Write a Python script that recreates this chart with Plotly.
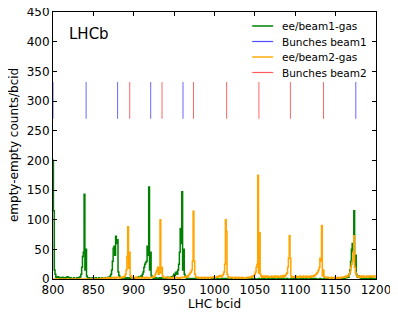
import plotly.graph_objects as go

bcid_start = 800
bcid_end = 1200

beam1_gas = [
    200, 115, 15, 8, 3, 2, 4, 2, 3, 1,
    2, 1, 3, 2, 1, 2, 1, 3, 4, 3,
    2, 1, 2, 1, 0, 1, 2, 1, 0, 1,
    2, 1, 2, 3, 4, 8, 20, 38, 45, 143,
    15, 50, 5, 2, 1, 2, 1, 0, 1, 2,
    1, 0, 1, 2, 1, 1, 0, 2, 1, 0,
    1, 2, 1, 0, 1, 2, 1, 2, 3, 2,
    3, 5, 8, 15, 30, 52, 55, 40, 72, 60,
    66, 12, 6, 3, 2, 1, 2, 1, 3, 1,
    2, 1, 2, 1, 0, 2, 1, 3, 1, 2,
    1, 2, 1, 2, 1, 3, 2, 4, 3, 5,
    4, 8, 12, 20, 25, 28, 30, 55, 40, 155,
    15, 45, 6, 3, 2, 1, 2, 1, 2, 1,
    0, 1, 2, 1, 2, 1, 0, 1, 2, 1,
    2, 1, 3, 2, 1, 2, 3, 4, 3, 5,
    8, 6, 10, 12, 8, 15, 25, 45, 85, 60,
    147, 15, 50, 8, 3, 2, 1, 0, 1, 0,
    1, 0, 0, 1, 0, 0, 1, 0, 0, 0,
    0, 1, 0, 0, 0, 1, 0, 0, 1, 0,
    0, 0, 1, 0, 0, 0, 0, 1, 0, 0,
    1, 0, 0, 0, 1, 0, 0, 0, 0, 1,
    0, 0, 1, 0, 0, 1, 0, 0, 0, 0,
    0, 1, 0, 0, 0, 0, 1, 0, 0, 0,
    1, 0, 0, 1, 0, 0, 0, 0, 1, 0,
    0, 0, 0, 1, 0, 0, 1, 0, 0, 0,
    1, 0, 0, 0, 0, 1, 0, 0, 0, 1,
    0, 0, 1, 0, 0, 0, 0, 1, 0, 0,
    0, 1, 0, 0, 1, 0, 0, 0, 0, 1,
    0, 0, 0, 1, 0, 0, 1, 0, 0, 0,
    1, 0, 0, 0, 0, 1, 0, 0, 1, 0,
    0, 0, 1, 0, 0, 0, 0, 1, 0, 0,
    1, 0, 0, 0, 1, 0, 0, 0, 0, 1,
    0, 0, 1, 0, 0, 1, 0, 0, 0, 0,
    0, 1, 0, 0, 0, 0, 1, 0, 0, 1,
    0, 0, 1, 0, 1, 0, 0, 1, 0, 1,
    1, 0, 1, 2, 1, 0, 1, 2, 1, 1,
    2, 1, 2, 3, 2, 4, 3, 8, 15, 30,
    50, 60, 45, 115, 20, 40, 8, 4, 3, 5,
    2, 3, 1, 2, 1, 0, 1, 2, 1, 0,
    1, 0, 1, 2, 1, 0, 1, 1, 0, 1, 1,
]

beam2_gas = [
    0, 0, 0, 0, 0, 0, 0, 0, 0, 0,
    0, 0, 0, 0, 0, 0, 0, 0, 0, 0,
    0, 0, 0, 0, 0, 0, 0, 0, 0, 0,
    0, 0, 0, 0, 0, 0, 0, 0, 0, 0,
    0, 0, 0, 0, 0, 0, 0, 0, 0, 0,
    0, 0, 0, 0, 0, 0, 0, 0, 0, 0,
    1, 0, 1, 2, 1, 0, 1, 2, 1, 1,
    2, 1, 2, 1, 2, 3, 2, 1, 2, 3,
    2, 3, 2, 1, 2, 3, 2, 4, 3, 5,
    8, 15, 38, 88, 18, 45, 6, 3, 2, 1,
    2, 3, 2, 1, 3, 2, 1, 2, 3, 2,
    1, 2, 3, 2, 1, 2, 3, 2, 1, 2,
    2, 3, 2, 3, 4, 3, 5, 8, 12, 15,
    20, 8, 18, 100, 10, 20, 5, 3, 2, 3,
    2, 3, 2, 1, 2, 3, 2, 1, 2, 3,
    2, 1, 2, 3, 2, 1, 2, 1, 2, 3,
    2, 3, 2, 3, 4, 3, 5, 4, 6, 8,
    10, 12, 15, 30, 114, 30, 8, 4, 3, 2,
    3, 2, 1, 2, 3, 2, 1, 2, 3, 2,
    1, 2, 3, 2, 1, 2, 3, 2, 3, 4,
    3, 2, 3, 4, 3, 5, 4, 6, 5, 4,
    6, 8, 12, 25, 100, 80, 8, 4, 3, 2,
    3, 2, 3, 2, 1, 2, 3, 2, 1, 2,
    3, 2, 1, 2, 3, 2, 1, 2, 1, 2,
    2, 3, 2, 3, 2, 4, 3, 5, 4, 6,
    8, 12, 20, 25, 175, 10, 78, 8, 4, 3,
    5, 3, 4, 5, 3, 4, 5, 3, 4, 3,
    4, 5, 3, 4, 3, 5, 4, 3, 5, 4,
    3, 4, 5, 3, 4, 6, 5, 4, 6, 8,
    10, 20, 35, 73, 35, 5, 3, 4, 3, 4,
    3, 5, 4, 3, 4, 3, 5, 4, 3, 4,
    5, 3, 4, 3, 5, 4, 3, 4, 5, 3,
    4, 5, 4, 6, 5, 7, 8, 10, 12, 15,
    20, 35, 30, 90, 5, 15, 4, 3, 2, 3,
    2, 3, 2, 1, 2, 3, 2, 1, 2, 3,
    2, 1, 2, 3, 2, 1, 2, 3, 2, 3,
    3, 4, 3, 5, 4, 6, 5, 8, 12, 20,
    25, 30, 45, 73, 20, 10, 6, 4, 5, 3,
    4, 3, 5, 4, 3, 5, 4, 3, 4, 5,
    4, 3, 5, 4, 5, 4, 3, 5, 4, 5, 5,
]

bunches_beam1 = [800, 841, 880, 921, 961, 1175]
bunches_beam2 = [895, 935, 974, 1015, 1055, 1094, 1135]
bunch_marker_range = [270, 332]

x_ticks = [800, 850, 900, 950, 1000, 1050, 1100, 1150, 1200]
y_ticks = [0, 50, 100, 150, 200, 250, 300, 350, 400, 450]

series_names = ["ee/beam1-gas", "Bunches beam1", "ee/beam2-gas", "Bunches beam2"]
series_colors = ["#008000", "rgba(0,0,255,0.6)", "#FFA500", "rgba(255,0,0,0.6)"]
legend_colors = ["rgba(0,128,0,0.75)", "rgba(0,0,255,0.7)", "rgba(255,165,0,0.7)", "rgba(255,0,0,0.65)"]
legend_widths = [2, 1.2, 2, 1.2]

bcids = list(range(bcid_start, bcid_end + 1))


def marker_xy(positions, yr):
    xs, ys = [], []
    for p in positions:
        xs += [p, p, None]
        ys += [yr[0], yr[1], None]
    return xs, ys


fig = go.Figure()
fig.add_trace(go.Scatter(x=bcids, y=beam1_gas, mode="lines", name=series_names[0],
                         line=dict(color=series_colors[0], width=1.5, shape="hvh")))
bx, by = marker_xy(bunches_beam1, bunch_marker_range)
fig.add_trace(go.Scatter(x=bx, y=by, mode="lines", name=series_names[1],
                         line=dict(color=series_colors[1], width=1)))
fig.add_trace(go.Scatter(x=bcids, y=beam2_gas, mode="lines", name=series_names[2],
                         line=dict(color=series_colors[2], width=1.5, shape="hvh")))
rx, ry = marker_xy(bunches_beam2, bunch_marker_range)
fig.add_trace(go.Scatter(x=rx, y=ry, mode="lines", name=series_names[3],
                         line=dict(color=series_colors[3], width=1)))

font = "DejaVu Sans, Verdana, sans-serif"
axis_common = dict(showline=True, linecolor="black", linewidth=1, mirror="allticks",
                   ticks="inside", ticklen=4, tickcolor="black", showgrid=False,
                   zeroline=False, automargin=False, ticklabeloverflow="allow",
                   tickfont=dict(size=12, color="black", family=font))

# page body has an 8px margin: the figure is drawn starting at (8, 8) of the window
OFF = 8
W, H = 390, 308
plot_left, plot_right, plot_top, plot_bottom = 52.5, 376, 12, 279  # window px
L = plot_left - OFF
T = plot_top - OFF
R = W - (plot_right - OFF)
B = H - (plot_bottom - OFF)
pw, ph = W - L - R, H - T - B


def px_x(x):
    return (x - plot_left) / pw


def px_y(y):
    return (plot_bottom - y) / ph


fig.update_xaxes(range=[800, 1200], tickvals=x_ticks,
                 title=dict(text="LHC bcid", font=dict(size=12, color="black", family=font), standoff=2),
                 **axis_common)
fig.update_yaxes(range=[0, 450], tickvals=y_ticks, **axis_common)

fig.add_annotation(text="empty-empty counts/bcid", xref="paper", yref="paper",
                   x=px_x(13), y=0.5, textangle=-90, showarrow=False,
                   xanchor="center", yanchor="middle",
                   font=dict(size=12, color="black", family=font))

fig.add_annotation(text="LHCb", xref="paper", yref="paper", x=px_x(67), y=px_y(34),
                   xanchor="left", yanchor="middle", showarrow=False,
                   font=dict(size=15, color="black", family=font))

# manual legend (top right, no frame)
legend_rows_px = [26, 41.5, 57, 72.5]
for name, col, lw, ypx in zip(series_names, legend_colors, legend_widths, legend_rows_px):
    yp = px_y(ypx)
    fig.add_shape(type="line", xref="paper", yref="paper",
                  x0=px_x(252), x1=px_x(273), y0=yp, y1=yp,
                  line=dict(color=col, width=lw))
    fig.add_annotation(text=name, xref="paper", yref="paper", x=px_x(280), y=yp,
                       xanchor="left", yanchor="middle", showarrow=False,
                       font=dict(size=10.5, color="black", family=font))

fig.update_layout(
    width=W, height=H,
    margin=dict(l=L, r=R, t=T, b=B),
    paper_bgcolor="white", plot_bgcolor="white",
    font=dict(family=font, color="black"),
    showlegend=False,
)

fig.write_html("out.html")
